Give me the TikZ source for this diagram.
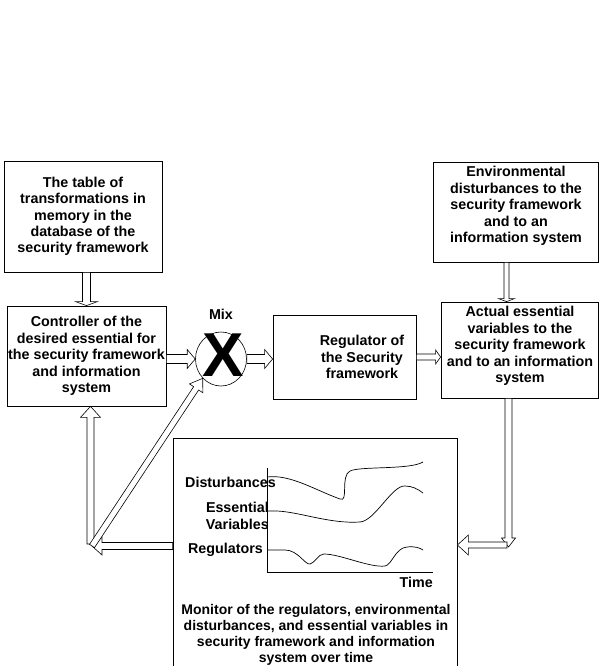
\documentclass[tikz,border=0pt]{standalone}
\usepackage{fontspec}
\setmainfont{Liberation Sans}
\usetikzlibrary{calc,shapes.geometric}
\tikzset{
  txt/.style={inner sep=0pt, align=center, font=\bfseries\fontsize{14.3}{16.4}\selectfont},
  box/.style={draw, line width=0.8pt, txt},
  arr/.style={draw, fill=white, line width=0.6pt, line join=miter},
  curve/.style={line width=0.7pt},
}
% block arrow: #1 shaft half width, #2 head half width, #3 head length, #4 from, #5 to
\newcommand{\blockarrow}[5]{%
  \coordinate (bh) at ($(#5)!#3!(#4)$);
  \draw[arr] ($(#4)!#1!90:(#5)$) -- ($(bh)!#1!-90:(#4)$) -- ($(bh)!#2!-90:(#4)$) -- (#5)
    -- ($(bh)!#2!90:(#4)$) -- ($(bh)!#1!90:(#4)$) -- ($(#4)!#1!-90:(#5)$) -- cycle;
}
\begin{document}
\begin{tikzpicture}[x=1pt,y=-1pt]
\clip (0,0) rectangle (600,666);
\fill[white] (0,0) rectangle (600,666);

% boxes
\node[box, minimum width=158, minimum height=111] (table) at (83,216.5)
  {The table of\\transformations in\\memory in the\\database of the\\security framework};
\node[box, minimum width=159, minimum height=100] (ctrl) at (86.5,356)
  {Controller of the\\desired essential for\\the security framework\\and information\\system};
\node[box, minimum width=143, minimum height=84] (reg) at (344.5,357) {};
\node[txt] (regt) at (362,357) {Regulator of\\the Security\\framework};
\node[box, minimum width=165, minimum height=100] (env) at (515.5,212) {};
\node[txt] (envt) at (516,206) {Environmental\\disturbances to the\\security framework\\and to an\\information system};
\node[box, minimum width=157, minimum height=96] (act) at (519.5,350) {};
\node[txt] (actt) at (520,346) {Actual essential\\variables to the\\security framework\\and to an information\\system};
\node[box, minimum width=284, minimum height=262] (mon) at (315,569) {};
\node[txt, font=\bfseries\fontsize{14}{16}\selectfont] (mont) at (316,635) {Monitor of the regulators, environmental\\disturbances, and essential variables in\\security framework and information\\system over time};

% mix
\node[draw, ellipse, line width=0.6pt, minimum width=51, minimum height=54, inner sep=0pt] (mix) at (221,359) {};
\node[inner sep=0pt, font=\bfseries\fontsize{62}{62}\selectfont] (mixx) at (223,355) {X};
\node[txt] (mixl) at (221,314) {Mix};

% chart
\draw[line width=0.7pt] (267,468) -- (267,572) -- (433,572);
\node[txt, anchor=east] (ldist) at (276,482) {Disturbances};
\node[txt, anchor=east] (less) at (269,516) {Essential\\Variables};
\node[txt, anchor=east] (lreg) at (263,550) {Regulators};
\node[txt, anchor=east] (ltime) at (433,582) {Time};
\draw[curve] (267,477) .. controls (290,474) and (315,490) .. (340,499)
  .. controls (349,503) and (340,476) .. (350,471)
  .. controls (360,466) and (410,470) .. (423,462);
\draw[curve] (267,511) -- (277,511) .. controls (300,512) and (330,524) .. (360,522)
  .. controls (375,521) and (392,485) .. (405,486)
  .. controls (412,486) and (418,489) .. (423,493);
\draw[curve] (267,550) -- (285,550) .. controls (298,550) and (305,565) .. (310,564)
  .. controls (315,563) and (318,554) .. (324,554)
  .. controls (340,554) and (370,568) .. (385,566)
  .. controls (392,565) and (395,548) .. (407,547)
  .. controls (415,546) and (420,548) .. (423,550);

% connector coordinates
\coordinate (t1) at (ctrl.north |- table.south);
\coordinate (t2) at (ctrl.north);
\coordinate (c1) at (ctrl.east |- mix.west);
\coordinate (r1) at (reg.west |- mix.east);
\coordinate (a1) at (act.west |- reg.east);
\coordinate (e1) at ($(env.south)+(-9,0)$);
\coordinate (e2) at (e1 |- act.north);
\coordinate (brc) at (508.5,547);
\coordinate (d1) at (brc |- act.south);
\coordinate (brh) at (507,545);
\coordinate (m1) at (mon.east |- brh);
\coordinate (blc) at (92,546);
\coordinate (m2) at (mon.west |- blc);
\coordinate (blv) at (90.5,544);
\coordinate (cv) at (ctrl.south -| blv);

% arrows
\blockarrow{4pt}{11pt}{4pt}{t1}{t2}
\blockarrow{4.5pt}{9.5pt}{8pt}{c1}{mix.west}
\blockarrow{4.5pt}{9.5pt}{8pt}{mix.east}{r1}
\blockarrow{3pt}{7pt}{5pt}{reg.east}{a1}
\blockarrow{2.5pt}{8pt}{3pt}{e1}{e2}
\blockarrow{3.5pt}{7pt}{9pt}{d1}{brc}
\blockarrow{3pt}{10pt}{11pt}{brh}{m1}
\blockarrow{3.5pt}{9pt}{10pt}{m2}{blc}
\blockarrow{3.5pt}{10pt}{11pt}{blv}{cv}
\blockarrow{3pt}{8pt}{12pt}{blc}{mix.south west}
\end{tikzpicture}
\end{document}
